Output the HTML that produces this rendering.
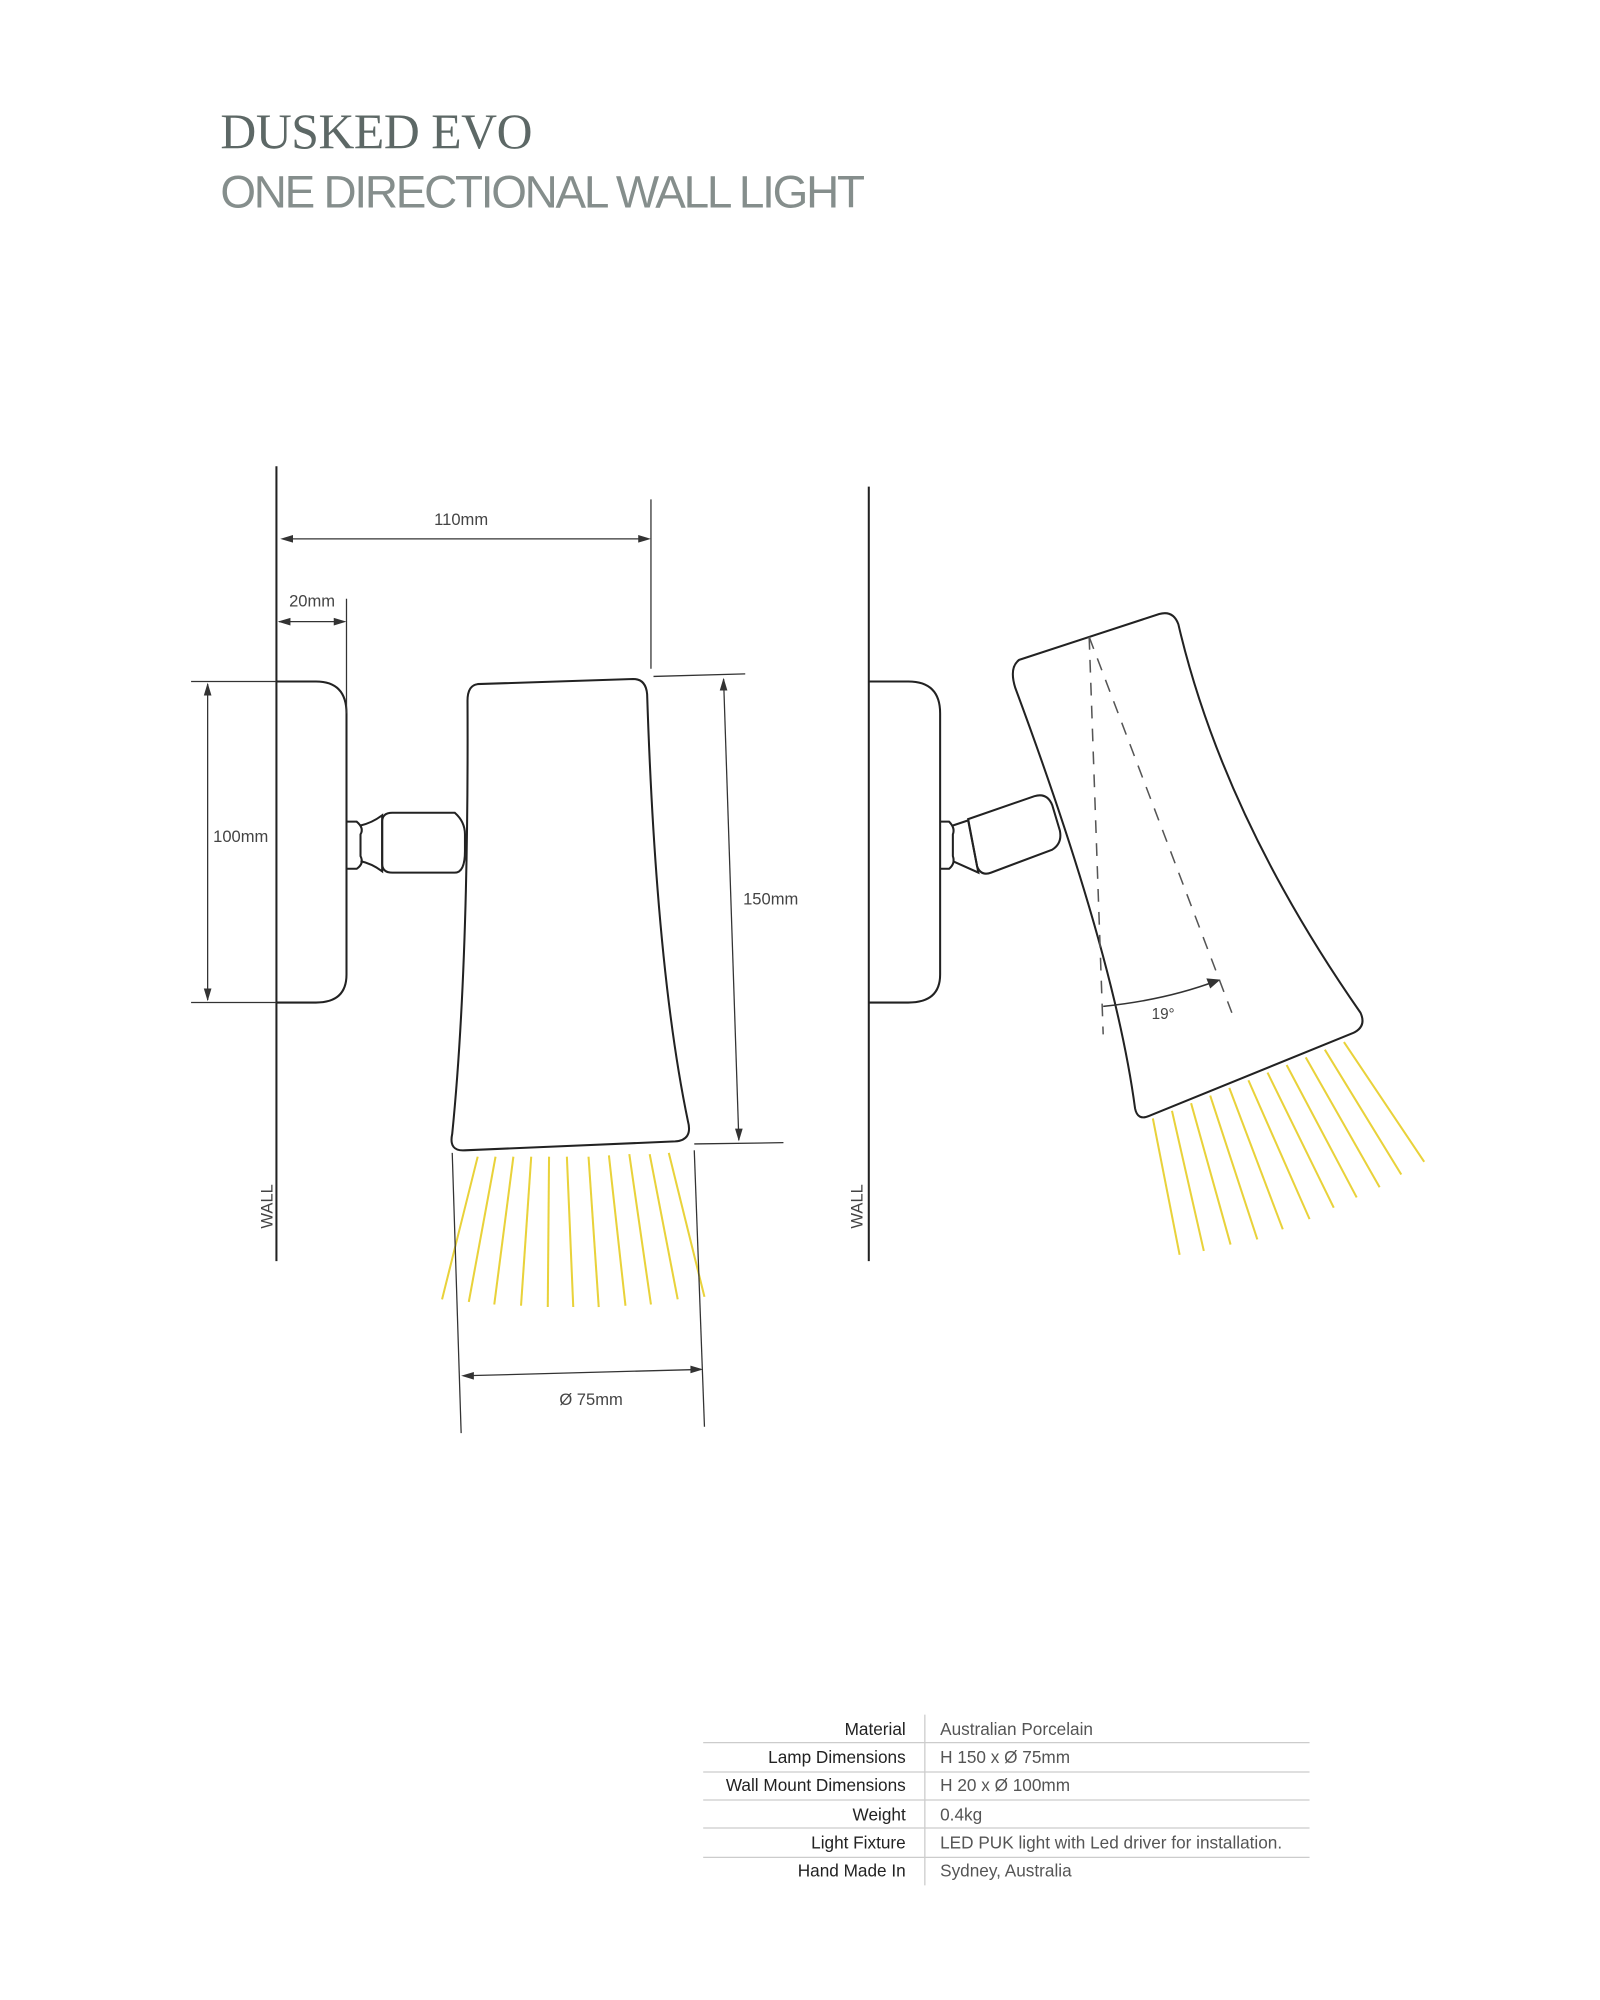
<!DOCTYPE html>
<html><head><meta charset="utf-8"><style>
html,body{margin:0;padding:0;background:#fff}
svg{display:block}
</style></head><body>
<svg width="1600" height="2000" viewBox="0 0 1256 1570" preserveAspectRatio="none" xmlns="http://www.w3.org/2000/svg">
<rect width="1256" height="1570" fill="#fff"/>
<text x="173" y="116" font-family="Liberation Serif, serif" font-size="39" fill="#5d6866" textLength="245">DUSKED EVO</text>
<text x="173" y="163" font-family="Liberation Sans, sans-serif" font-size="36" font-weight="300" fill="#858e8c" textLength="506">ONE DIRECTIONAL WALL LIGHT</text>

<g fill="none" stroke="#222" stroke-width="1.6">
<line x1="217" y1="366" x2="217" y2="990"/>
<path d="M217,535 H248 Q272,535 272,560 V765 Q272,787 248,787 H217"/>
<path d="M272,645 H280 Q286,650 283,655 V672 Q286,678 280,682 H272"/>
<path d="M283,648 Q292,646 300,640 V684 Q292,678 283,676"/>
<path d="M300,645 Q300,638 308,638 H357 Q365,645 365,655 V668 Q365,685 357,685 H308 Q300,685 300,678 Z"/>
<path d="M375,537 L497,533 Q507,533 508,545 Q515,760 540,880 Q544,895 530,896 L365,903 Q352,904 355,890 Q368,760 367,550 Q367,538 375,537 Z"/>
<line x1="682" y1="382" x2="682" y2="990"/>
<path d="M682,535 H713 Q738,535 738,560 V765 Q738,787 713,787 H682"/>
<path d="M738,645 H745 Q750,650 748,655 V672 Q750,678 745,682 H738"/>
<path d="M748,648 L760,644 L768,685 L748,676"/>
<path d="M760,643 L812,625 Q822,622 826,632 L832,652 Q834,662 826,667 L778,685 Q770,688 767,680 Z"/>
<path d="M800,518 L910,482 Q921,479 925,490 Q960,640 1068,795 Q1073,806 1062,811 L902,876 Q893,880 891,870 Q875,750 797,540 Q792,524 800,518 Z"/>
</g>

<g stroke="#555" stroke-width="1.2" stroke-dasharray="10,8" fill="none">
<line x1="855" y1="500" x2="866" y2="812"/>
<line x1="855" y1="500" x2="967" y2="795"/>
</g>
<path d="M866,790 Q915,785 955,770" stroke="#333" stroke-width="1.2" fill="none"/>
<polygon points="958,769 947,768 950,776" fill="#333"/>
<text x="904" y="800" font-family="Liberation Sans, sans-serif" font-size="12" fill="#444">19°</text>

<g stroke="#e9d23a" stroke-width="1.6">
<line x1="375" y1="908" x2="347" y2="1020"/>
<line x1="389" y1="908" x2="368" y2="1022"/>
<line x1="403" y1="908" x2="388" y2="1024"/>
<line x1="417" y1="908" x2="409" y2="1025"/>
<line x1="431" y1="908" x2="430" y2="1026"/>
<line x1="445" y1="908" x2="450" y2="1026"/>
<line x1="462" y1="908" x2="470" y2="1026"/>
<line x1="478" y1="907" x2="491" y2="1025"/>
<line x1="494" y1="906" x2="511" y2="1024"/>
<line x1="510" y1="906" x2="532" y2="1020"/>
<line x1="525" y1="905" x2="553" y2="1018"/>
<line x1="905" y1="878" x2="926" y2="985"/>
<line x1="920" y1="872" x2="945" y2="982"/>
<line x1="935" y1="866" x2="966" y2="977"/>
<line x1="950" y1="860" x2="987" y2="973"/>
<line x1="965" y1="854" x2="1007" y2="965"/>
<line x1="980" y1="848" x2="1028" y2="957"/>
<line x1="995" y1="842" x2="1047" y2="948"/>
<line x1="1010" y1="836" x2="1065" y2="940"/>
<line x1="1025" y1="830" x2="1083" y2="932"/>
<line x1="1040" y1="824" x2="1100" y2="922"/>
<line x1="1055" y1="818" x2="1118" y2="912"/>
</g>

<g stroke="#333" stroke-width="1" fill="none">
<line x1="511" y1="392" x2="511" y2="525"/>
<line x1="222" y1="423" x2="509" y2="423"/>
<line x1="272" y1="470" x2="272" y2="560"/>
<line x1="219" y1="488" x2="270" y2="488"/>
<line x1="150" y1="535" x2="217" y2="535"/>
<line x1="150" y1="787" x2="217" y2="787"/>
<line x1="163" y1="537" x2="163" y2="785"/>
<line x1="513" y1="531" x2="585" y2="529"/>
<line x1="545" y1="898" x2="615" y2="897"/>
<line x1="568" y1="533" x2="580" y2="895"/>
<line x1="355" y1="905" x2="362" y2="1125"/>
<line x1="545" y1="903" x2="553" y2="1120"/>
<line x1="364" y1="1080" x2="550" y2="1075"/>
</g>
<g fill="#333">
<polygon points="220,423 230,420 230,426"/><polygon points="511,423 501,420 501,426"/>
<polygon points="218,488 228,485 228,491"/><polygon points="272,488 262,485 262,491"/>
<polygon points="163,536 160,546 166,546"/><polygon points="163,786 160,776 166,776"/>
<polygon points="568,532 565,542 571,542"/><polygon points="580,896 577,886 583,886"/>
<polygon points="362,1080 372,1077 372,1083"/><polygon points="552,1075 542,1072 542,1078"/>
</g>
<g font-family="Liberation Sans, sans-serif" font-size="13" fill="#444" text-anchor="middle">
<text x="362" y="412">110mm</text>
<text x="245" y="476">20mm</text>
<text x="189" y="661">100mm</text>
<text x="605" y="710">150mm</text>
<text x="464" y="1103">Ø 75mm</text>
<text transform="translate(214,947) rotate(-90)">WALL</text>
<text transform="translate(677,947) rotate(-90)">WALL</text>
</g>

<g stroke="#ccc" stroke-width="1">
<line x1="552" y1="1368" x2="1028" y2="1368"/>
<line x1="552" y1="1391" x2="1028" y2="1391"/>
<line x1="552" y1="1413" x2="1028" y2="1413"/>
<line x1="552" y1="1435" x2="1028" y2="1435"/>
<line x1="552" y1="1458" x2="1028" y2="1458"/>
<line x1="726" y1="1346" x2="726" y2="1480"/>
</g>
<g font-family="Liberation Sans, sans-serif" font-size="13.5" fill="#222" text-anchor="end">
<text x="711" y="1362">Material</text>
<text x="711" y="1384">Lamp Dimensions</text>
<text x="711" y="1406">Wall Mount Dimensions</text>
<text x="711" y="1429">Weight</text>
<text x="711" y="1451">Light Fixture</text>
<text x="711" y="1473">Hand Made In</text>
</g>
<g font-family="Liberation Sans, sans-serif" font-size="13.5" fill="#555">
<text x="738" y="1362">Australian Porcelain</text>
<text x="738" y="1384">H 150 x Ø 75mm</text>
<text x="738" y="1406">H 20 x Ø 100mm</text>
<text x="738" y="1429">0.4kg</text>
<text x="738" y="1451">LED PUK light with Led driver for installation.</text>
<text x="738" y="1473">Sydney, Australia</text>
</g>
</svg>
</body></html>
